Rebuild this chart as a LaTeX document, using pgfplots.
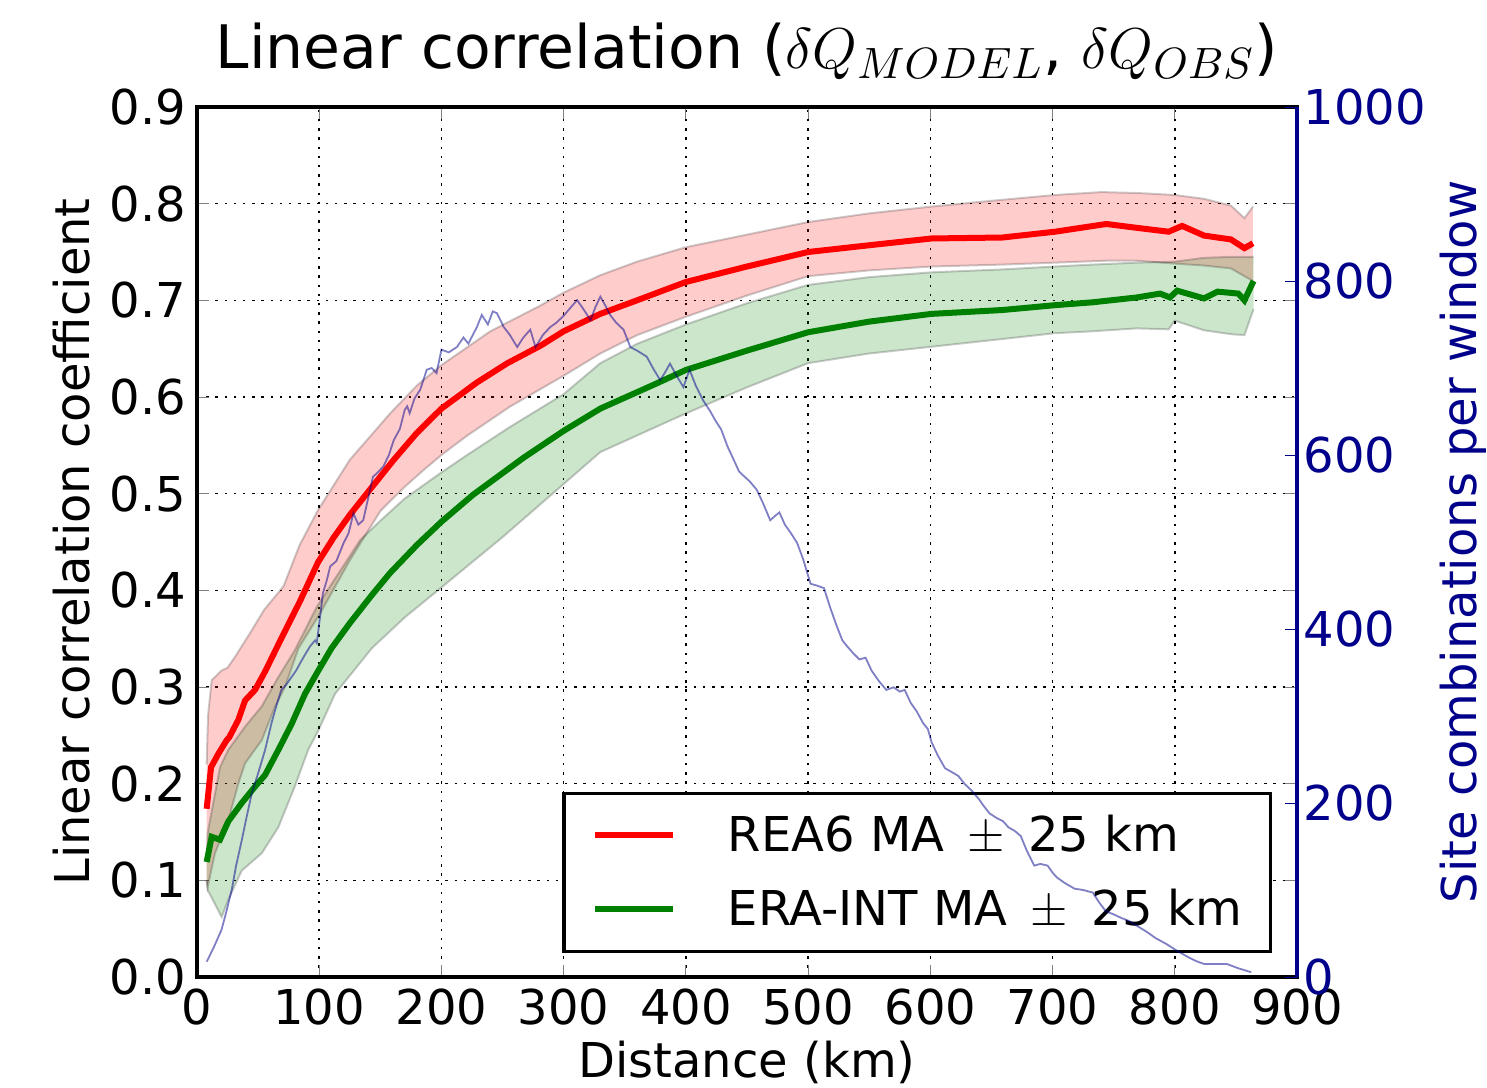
\documentclass[border=0pt]{standalone}
\usepackage{fontspec}
\setmainfont{DejaVu Sans}
\usepackage{pgfplots}
\pgfplotsset{compat=1.18}
\usepgfplotslibrary{fillbetween}
\definecolor{dblue}{rgb}{0,0,0.545}
\definecolor{mgreen}{rgb}{0,0.5,0}

\begin{document}
\begin{tikzpicture}
\begin{axis}[
  at={(49.25pt,27.75pt)}, anchor=south west,
  scale only axis, width=275pt, height=217.5pt,
  xmin=0, xmax=900, ymin=0, ymax=0.9,
  xtick={0,100,200,300,400,500,600,700,800,900},
  ytick={0,0.1,0.2,0.3,0.4,0.5,0.6,0.7,0.8,0.9},
  scaled ticks=false,
  /pgf/number format/assume math mode=true,
  tick label style={font=\fontsize{12}{14}\selectfont},
  yticklabel style={/pgf/number format/.cd, fixed, fixed zerofill, precision=1, /tikz/.cd, inner sep=0pt, xshift=-2.5pt},
  xticklabel style={inner sep=0pt, yshift=-2.8pt},
  major tick length=3pt,
  tick align=inside,
  axis line style={line width=0.8pt},
  grid=major,
  grid style={black, line width=0.4pt, dash pattern=on 0.6pt off 1.7pt},
  title={Linear correlation ($\delta Q_{MODEL}$, $\delta Q_{OBS}$)},
  title style={font=\fontsize{15}{18}\selectfont, at={(axis description cs:0.5,1.0172)}, anchor=base},
  xlabel={Distance (km)},
  xlabel style={font=\fontsize{12}{14}\selectfont, at={(axis description cs:0.5,-0.1161)}, anchor=base},
  ylabel={Linear correlation coefficient},
  ylabel style={font=\fontsize{12}{14}\selectfont, at={(axis description cs:-0.0973,0.5)}, anchor=base},
  legend cell align=left,
  legend image code/.code={\draw[#1] (0pt,0pt) -- (19.5pt,0pt);},
  legend style={at={(axis description cs:0.9773,0.0276)}, anchor=south east,
    draw=black, line width=0.8pt, inner xsep=7pt, inner ysep=5.6pt,
    row sep=8.7pt, column sep=13pt,
    nodes={inner sep=0pt, text height=9pt, text depth=0.8pt, font=\fontsize{12}{14}\selectfont}},
]
% ---- red band
\addplot[name path=ru, draw=black, draw opacity=0.2, line width=0.5pt, forget plot] coordinates {
(7.9,0.22)(9,0.27)(12,0.307)(20,0.317)(25,0.32)(31,0.331)(43,0.355)(55,0.38)(70.7,0.404)(84,0.447)(99,0.483)(125,0.535)(158,0.583)(180,0.612)(200,0.633)(240,0.668)(280,0.694)(300,0.708)(330,0.726)(360,0.740)(400,0.755)(450,0.768)(500,0.781)(550,0.790)(601,0.797)(650,0.803)(702,0.809)(740,0.812)(770,0.811)(800,0.809)(824,0.805)(846,0.798)(857,0.785)(864,0.797)};
\addplot[name path=rl, draw=black, draw opacity=0.2, line width=0.5pt, forget plot] coordinates {
(7.9,0.10)(8.7,0.093)(14.7,0.128)(25.6,0.162)(33.8,0.200)(39.3,0.221)(53,0.245)(64,0.28)(72,0.300)(83,0.340)(100.7,0.376)(125,0.431)(150,0.482)(169,0.506)(185,0.524)(200,0.540)(221,0.560)(256,0.590)(300,0.622)(330,0.645)(360,0.664)(400,0.683)(450,0.705)(500,0.725)(550,0.731)(601,0.735)(659,0.737)(702,0.739)(744,0.741)(769,0.741)(800,0.738)(824,0.736)(846,0.733)(857,0.725)(864,0.72)};
\addplot[fill=red, fill opacity=0.2, draw=none, forget plot] fill between[of=ru and rl];
% ---- green band
\addplot[name path=gu, draw=black, draw opacity=0.2, line width=0.5pt, forget plot] coordinates {
(7.9,0.12)(8.7,0.149)(18.8,0.217)(25.6,0.235)(39.3,0.259)(53,0.28)(65,0.307)(80,0.338)(98,0.383)(133.5,0.452)(150,0.472)(170,0.495)(200,0.522)(221,0.540)(256,0.569)(300,0.603)(330,0.635)(360,0.655)(400,0.675)(450,0.697)(500,0.716)(550,0.724)(601,0.729)(659,0.732)(702,0.735)(733,0.737)(769,0.739)(800,0.740)(824,0.744)(846,0.745)(864.5,0.745)};
\addplot[name path=gl, draw=black, draw opacity=0.2, line width=0.5pt, forget plot] coordinates {
(7.9,0.10)(8.7,0.09)(20.2,0.062)(25.6,0.08)(36.6,0.11)(53,0.128)(66.6,0.155)(80,0.197)(91,0.235)(99.3,0.255)(113,0.293)(129,0.318)(143,0.340)(170,0.372)(200,0.403)(250,0.455)(300,0.510)(330,0.543)(400,0.583)(450,0.61)(500,0.635)(550,0.645)(601,0.652)(659,0.66)(702,0.666)(733,0.668)(769,0.671)(795,0.670)(800,0.679)(824,0.669)(846,0.665)(857,0.664)(864.5,0.691)};
\addplot[fill=mgreen, fill opacity=0.2, draw=none, forget plot] fill between[of=gu and gl];
% ---- centre lines
\addplot[red, line width=1.5pt] coordinates {
(7.9,0.174)(11.5,0.217)(17.5,0.231)(24.3,0.245)(26.4,0.248)(33.8,0.266)(39.3,0.286)(47.5,0.297)(55.7,0.316)(65,0.340)(76,0.368)(84,0.388)(99,0.429)(112,0.455)(125,0.478)(142,0.505)(161,0.535)(180,0.563)(200,0.588)(229,0.615)(254,0.635)(281,0.653)(300,0.668)(330,0.686)(360,0.700)(400,0.719)(450,0.735)(500,0.750)(550,0.757)(601,0.764)(659,0.765)(702,0.771)(744,0.779)(769,0.775)(795,0.771)(806,0.777)(824,0.767)(846,0.763)(857,0.754)(864,0.759)};
\addlegendentry{REA6 MA \,$\pm$\, 25 km}
\addplot[mgreen, line width=1.5pt] coordinates {
(7.9,0.119)(12,0.145)(18.8,0.142)(25.6,0.161)(36.6,0.180)(47.5,0.197)(55.7,0.209)(66.6,0.235)(77.5,0.262)(88.4,0.293)(99.3,0.317)(110,0.340)(125,0.366)(143,0.395)(158,0.418)(180,0.447)(200,0.471)(226,0.499)(267,0.537)(300,0.565)(330,0.588)(376,0.614)(400,0.628)(450,0.648)(500,0.667)(550,0.678)(601,0.686)(659,0.690)(702,0.695)(733,0.698)(769,0.703)(788,0.707)(796,0.703)(802,0.710)(824,0.702)(835,0.709)(852,0.707)(857,0.700)(864.5,0.720)};
\addlegendentry{ERA-INT MA \,$\pm$\, 25 km}
\end{axis}

\begin{axis}[
  at={(49.25pt,27.75pt)}, anchor=south west,
  scale only axis, width=275pt, height=217.5pt,
  xmin=0, xmax=900, ymin=0, ymax=1000,
  axis x line=none, axis y line*=right,
  ytick={0,200,400,600,800,1000},
  scaled ticks=false,
  /pgf/number format/assume math mode=true,
  yticklabel style={font=\fontsize{12}{14}\selectfont, text=dblue, /pgf/number format/1000 sep={}, inner sep=0pt, xshift=1.5pt},
  major tick length=3pt,
  tick align=inside,
  ytick style={dblue},
  y axis line style={dblue, line width=0.8pt},
  ylabel={Site combinations per window},
  ylabel style={font=\fontsize{12}{14}\selectfont, text=dblue, at={(axis description cs:1.1636,0.5)}, anchor=base},
]
\addplot[dblue, opacity=0.5, line width=0.45pt] coordinates {
(8,17.6)(14,35)(20,54)(24,75)(28.4,100)(32,128)(36.6,157)(40,180)(44.8,211)(50,234)(55.7,261)(61,292)(65,312)(69,330)(73,336)(77.5,345)(81,352)(85.7,364)(89,372)(92.5,380)(96.6,387)(98,384)(100.7,414)(103,441)(106,455)(109,472)(114,478)(120,499)(124,510)(128,533)(132,520)(136,525)(140,550)(144,575)(148,580)(152.6,587)(157,600)(161,617)(166,630)(170,652)(172,656)(174,648)(178,665)(182.6,675)(188,698)(192,700)(196,694)(200,721)(206,718)(212.6,724)(218,735)(222,728)(229,747)(233,761)(238,750)(242,765)(245.4,763)(251,747)(256,738)(262,724)(267,735)(272.7,744)(277,724)(283,738)(289,747)(294,752)(300,760)(306,770)(311,778)(316,768)(322,755)(326,770)(330,782)(334,772)(338,761)(343,752)(349,744)(354.6,724)(360,720)(368,713)(373,700)(379,686)(383,695)(387,705)(392,692)(398,678)(403,698)(408,680)(414,663)(420,650)(424,640)(429,629)(434,610)(438,598)(443.5,581)(448,575)(452,570)(458,560)(463,545)(469,525)(473,530)(476.5,534)(481,520)(486,510)(491,499)(496,480)(502,452)(507,450)(513,447)(518,425)(523,405)(528,387)(532,380)(537,372)(542,365)(547,367)(552,352)(558,340)(564,330)(570,333)(575,328)(579,330)(584,315)(589,305)(594,292)(598,285)(601,270)(606,255)(612,240)(617,236)(623,231)(628,222)(634,214)(640,204)(644,196)(648.5,188)(654,183)(659.5,179)(664,172)(669,168)(674,162)(679,145)(685,128)(690,130)(696,128)(700,120)(703.5,114.5)(710,108)(718,101.5)(725,100)(733,97)(738,86)(743.6,75.5)(750,72)(756,68)(762,64.7)(770,58)(777,52)(784,45)(793,38)(802,30)(812,22)(818,18)(824,15)(833,15)(842.5,15)(852,10)(862.6,5.5)};
\end{axis}
\pgfresetboundingbox
\path[use as bounding box] (0,0) rectangle (371.75pt,272pt);
\end{tikzpicture}
\end{document}
